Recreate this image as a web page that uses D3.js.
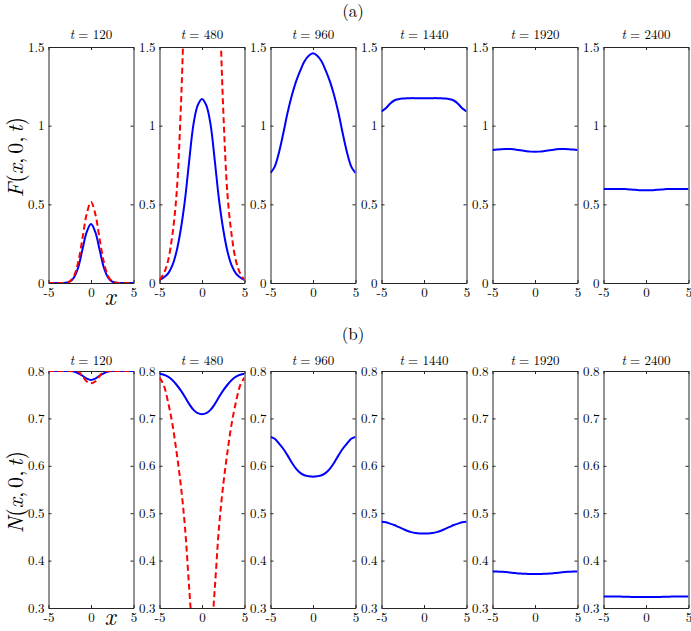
<!DOCTYPE html>
<html><head><meta charset="utf-8">
<script src="https://cdn.jsdelivr.net/npm/d3@7"></script>
<style>
body{margin:0;background:#fff}
svg{display:block}
</style>
</head><body>
<svg id="c" width="691" height="631"></svg>
<script>
// ---- data ----
const xValues = [-5,-4.5,-4,-3.5,-3,-2.5,-2,-1.5,-1,-0.5,0,0.5,1,1.5,2,2.5,3,3.5,4,4.5,5];
const times = [120,480,960,1440,1920,2400];
const xTicks = [-5,0,5];
const xTickLabels = ["-5","0","5"];
const fTicks = [0,0.5,1,1.5];
const fTickLabels = ["0","0.5","1","1.5"];
const nTicks = [0.3,0.4,0.5,0.6,0.7,0.8];
const nTickLabels = ["0.3","0.4","0.5","0.6","0.7","0.8"];

// F(x,0,t) solid blue
const F_blue_120  = [0,0,0,0,0.001,0.008,0.035,0.1,0.215,0.325,0.375,0.325,0.215,0.1,0.035,0.008,0.001,0,0,0,0];
const F_blue_480  = [0.02,0.035,0.06,0.11,0.2,0.34,0.53,0.78,1.01,1.13,1.17,1.13,1.01,0.78,0.53,0.34,0.2,0.11,0.06,0.035,0.02];
const F_blue_960  = [0.70,0.74,0.83,0.95,1.08,1.19,1.28,1.35,1.41,1.445,1.46,1.445,1.41,1.35,1.28,1.19,1.08,0.95,0.83,0.74,0.70];
const F_blue_1440 = [1.09,1.11,1.14,1.16,1.168,1.172,1.174,1.175,1.175,1.175,1.175,1.175,1.175,1.175,1.174,1.172,1.168,1.16,1.14,1.11,1.09];
const F_blue_1920 = [0.845,0.848,0.85,0.851,0.851,0.85,0.846,0.842,0.838,0.835,0.834,0.835,0.838,0.842,0.846,0.85,0.851,0.851,0.85,0.848,0.845];
const F_blue_2400 = [0.597,0.597,0.598,0.598,0.598,0.597,0.595,0.593,0.591,0.589,0.589,0.589,0.591,0.593,0.595,0.597,0.598,0.598,0.598,0.597,0.597];
// F(x,0,t) dashed red
const F_red_120 = [0,0,0,0,0.001,0.01,0.045,0.135,0.285,0.44,0.515,0.44,0.285,0.135,0.045,0.01,0.001,0,0,0,0];
const F_red_480 = [0.02,0.06,0.14,0.3,0.56,1.1,1.9,2.6,3.2,3.5,3.6,3.5,3.2,2.6,1.9,1.1,0.56,0.3,0.14,0.06,0.02];

// N(x,0,t) solid blue
const N_blue_120  = [0.8,0.8,0.8,0.8,0.8,0.8,0.799,0.795,0.79,0.784,0.781,0.784,0.79,0.795,0.799,0.8,0.8,0.8,0.8,0.8,0.8];
const N_blue_480  = [0.794,0.792,0.788,0.781,0.771,0.759,0.745,0.73,0.718,0.711,0.709,0.711,0.718,0.73,0.745,0.759,0.771,0.781,0.788,0.792,0.794];
const N_blue_960  = [0.661,0.657,0.647,0.636,0.622,0.607,0.594,0.585,0.58,0.578,0.577,0.578,0.58,0.585,0.594,0.607,0.622,0.636,0.647,0.657,0.661];
const N_blue_1440 = [0.482,0.481,0.478,0.475,0.471,0.467,0.463,0.46,0.458,0.457,0.457,0.457,0.458,0.46,0.463,0.467,0.471,0.475,0.478,0.481,0.482];
const N_blue_1920 = [0.377,0.377,0.3765,0.376,0.375,0.374,0.373,0.3725,0.372,0.3715,0.3715,0.3715,0.372,0.3725,0.373,0.374,0.375,0.376,0.3765,0.377,0.377];
const N_blue_2400 = [0.3245,0.3245,0.3245,0.3243,0.324,0.3238,0.3235,0.3233,0.3232,0.3232,0.3232,0.3232,0.3232,0.3233,0.3235,0.3238,0.324,0.3243,0.3245,0.3245,0.3245];
// N(x,0,t) dashed red
const N_red_120 = [0.8,0.8,0.8,0.8,0.8,0.8,0.8,0.799,0.789,0.778,0.774,0.778,0.789,0.799,0.8,0.8,0.8,0.8,0.8,0.8,0.8];
const N_red_480 = [0.786,0.77,0.735,0.69,0.63,0.56,0.47,0.34,0.22,0.15,0.13,0.15,0.22,0.34,0.47,0.56,0.63,0.69,0.735,0.77,0.786];

const F_blue = [F_blue_120,F_blue_480,F_blue_960,F_blue_1440,F_blue_1920,F_blue_2400];
const F_red  = [F_red_120,F_red_480,null,null,null,null];
const N_blue = [N_blue_120,N_blue_480,N_blue_960,N_blue_1440,N_blue_1920,N_blue_2400];
const N_red  = [N_red_120,N_red_480,null,null,null,null];

// ---- layout ----
const FONT = "'Latin Modern Roman','Liberation Serif',serif";
const svg = d3.select("#c");
const left0 = 48.5, step = 111, pw = 85;
const rows = [
  {top:47, bottom:283, domain:[0,1.5], ticks:fTicks, labels:fTickLabels, blue:F_blue, red:F_red, tag:"(a)", tagY:16.5, titleY:38.5, ylab:"F", ylabY:157, xlabY:305},
  {top:371, bottom:608, domain:[0.3,0.8], ticks:nTicks, labels:nTickLabels, blue:N_blue, red:N_red, tag:"(b)", tagY:340, titleY:364.5, ylab:"N", ylabY:492, xlabY:625}
];
const axisColor = "#262626";

rows.forEach((r,ri)=>{
  const y = d3.scaleLinear().domain(r.domain).range([r.bottom,r.top]);
  times.forEach((t,i)=>{
    const L = left0 + i*step;
    const x = d3.scaleLinear().domain([-5,5]).range([L,L+pw]);
    const g = svg.append("g");
    const cid = "clip"+ri+"_"+i;
    svg.append("clipPath").attr("id",cid).append("rect")
      .attr("x",L).attr("y",r.top).attr("width",pw).attr("height",r.bottom-r.top);

    const ax = [
      g.append("g").attr("transform",`translate(0,${r.bottom})`).call(d3.axisBottom(x).tickValues(xTicks).tickFormat((d,k)=>xTickLabels[k]).tickSizeInner(-3).tickSizeOuter(0).tickPadding(5)),
      g.append("g").attr("transform",`translate(0,${r.top})`).call(d3.axisTop(x).tickValues(xTicks).tickFormat("").tickSizeInner(-3).tickSizeOuter(0)),
      g.append("g").attr("transform",`translate(${L},0)`).call(d3.axisLeft(y).tickValues(r.ticks).tickFormat((d,k)=>r.labels[k]).tickSizeInner(-3).tickSizeOuter(0).tickPadding(4)),
      g.append("g").attr("transform",`translate(${L+pw},0)`).call(d3.axisRight(y).tickValues(r.ticks).tickFormat("").tickSizeInner(-3).tickSizeOuter(0))
    ];
    ax.forEach(a=>{
      a.attr("font-family",FONT).attr("font-size",13);
      a.selectAll("path").attr("stroke",axisColor).attr("stroke-width",1);
      a.selectAll("line").attr("stroke",axisColor).attr("stroke-width",1);
      a.selectAll("text").style("font-family",FONT).style("font-size","13px").attr("fill","#000");
    });

    const line = d3.line().x((d,k)=>x(xValues[k])).y(d=>y(d)).curve(d3.curveCatmullRom.alpha(0.5));
    const plot = g.append("g").attr("clip-path",`url(#${cid})`);
    plot.append("path").datum(r.blue[i]).attr("d",line)
      .attr("fill","none").attr("stroke","#0000ff").attr("stroke-width",2);
    if (r.red[i]) {
      plot.append("path").datum(r.red[i]).attr("d",line)
        .attr("fill","none").attr("stroke","#ff0000").attr("stroke-width",2).attr("stroke-dasharray","6,3.5");
    }

    const tt = g.append("text").attr("x",L+pw/2).attr("y",r.titleY).attr("text-anchor","middle")
      .style("font-family",FONT).style("font-size","13px");
    tt.append("tspan").style("font-style","italic").text("t");
    tt.append("tspan").text(" = "+t);
  });

  svg.append("text").attr("x",353).attr("y",r.tagY).attr("text-anchor","middle")
    .style("font-family",FONT).style("font-size","17px").text(r.tag);
  const yl = svg.append("text").attr("transform",`translate(23,${r.ylabY}) rotate(-90)`).attr("text-anchor","middle")
    .style("font-family",FONT).style("font-size","22px");
  yl.append("tspan").style("font-style","italic").text(r.ylab);
  yl.append("tspan").text("(");
  yl.append("tspan").style("font-style","italic").text("x");
  yl.append("tspan").text(",");
  yl.append("tspan").attr("dx",4).text("0,");
  yl.append("tspan").attr("dx",4).style("font-style","italic").text("t");
  yl.append("tspan").text(")");
  svg.append("text").attr("x",110).attr("y",r.xlabY).attr("text-anchor","middle")
    .style("font-family",FONT).style("font-size","24px").style("font-style","italic").text("x");
});
</script>
</body></html>
